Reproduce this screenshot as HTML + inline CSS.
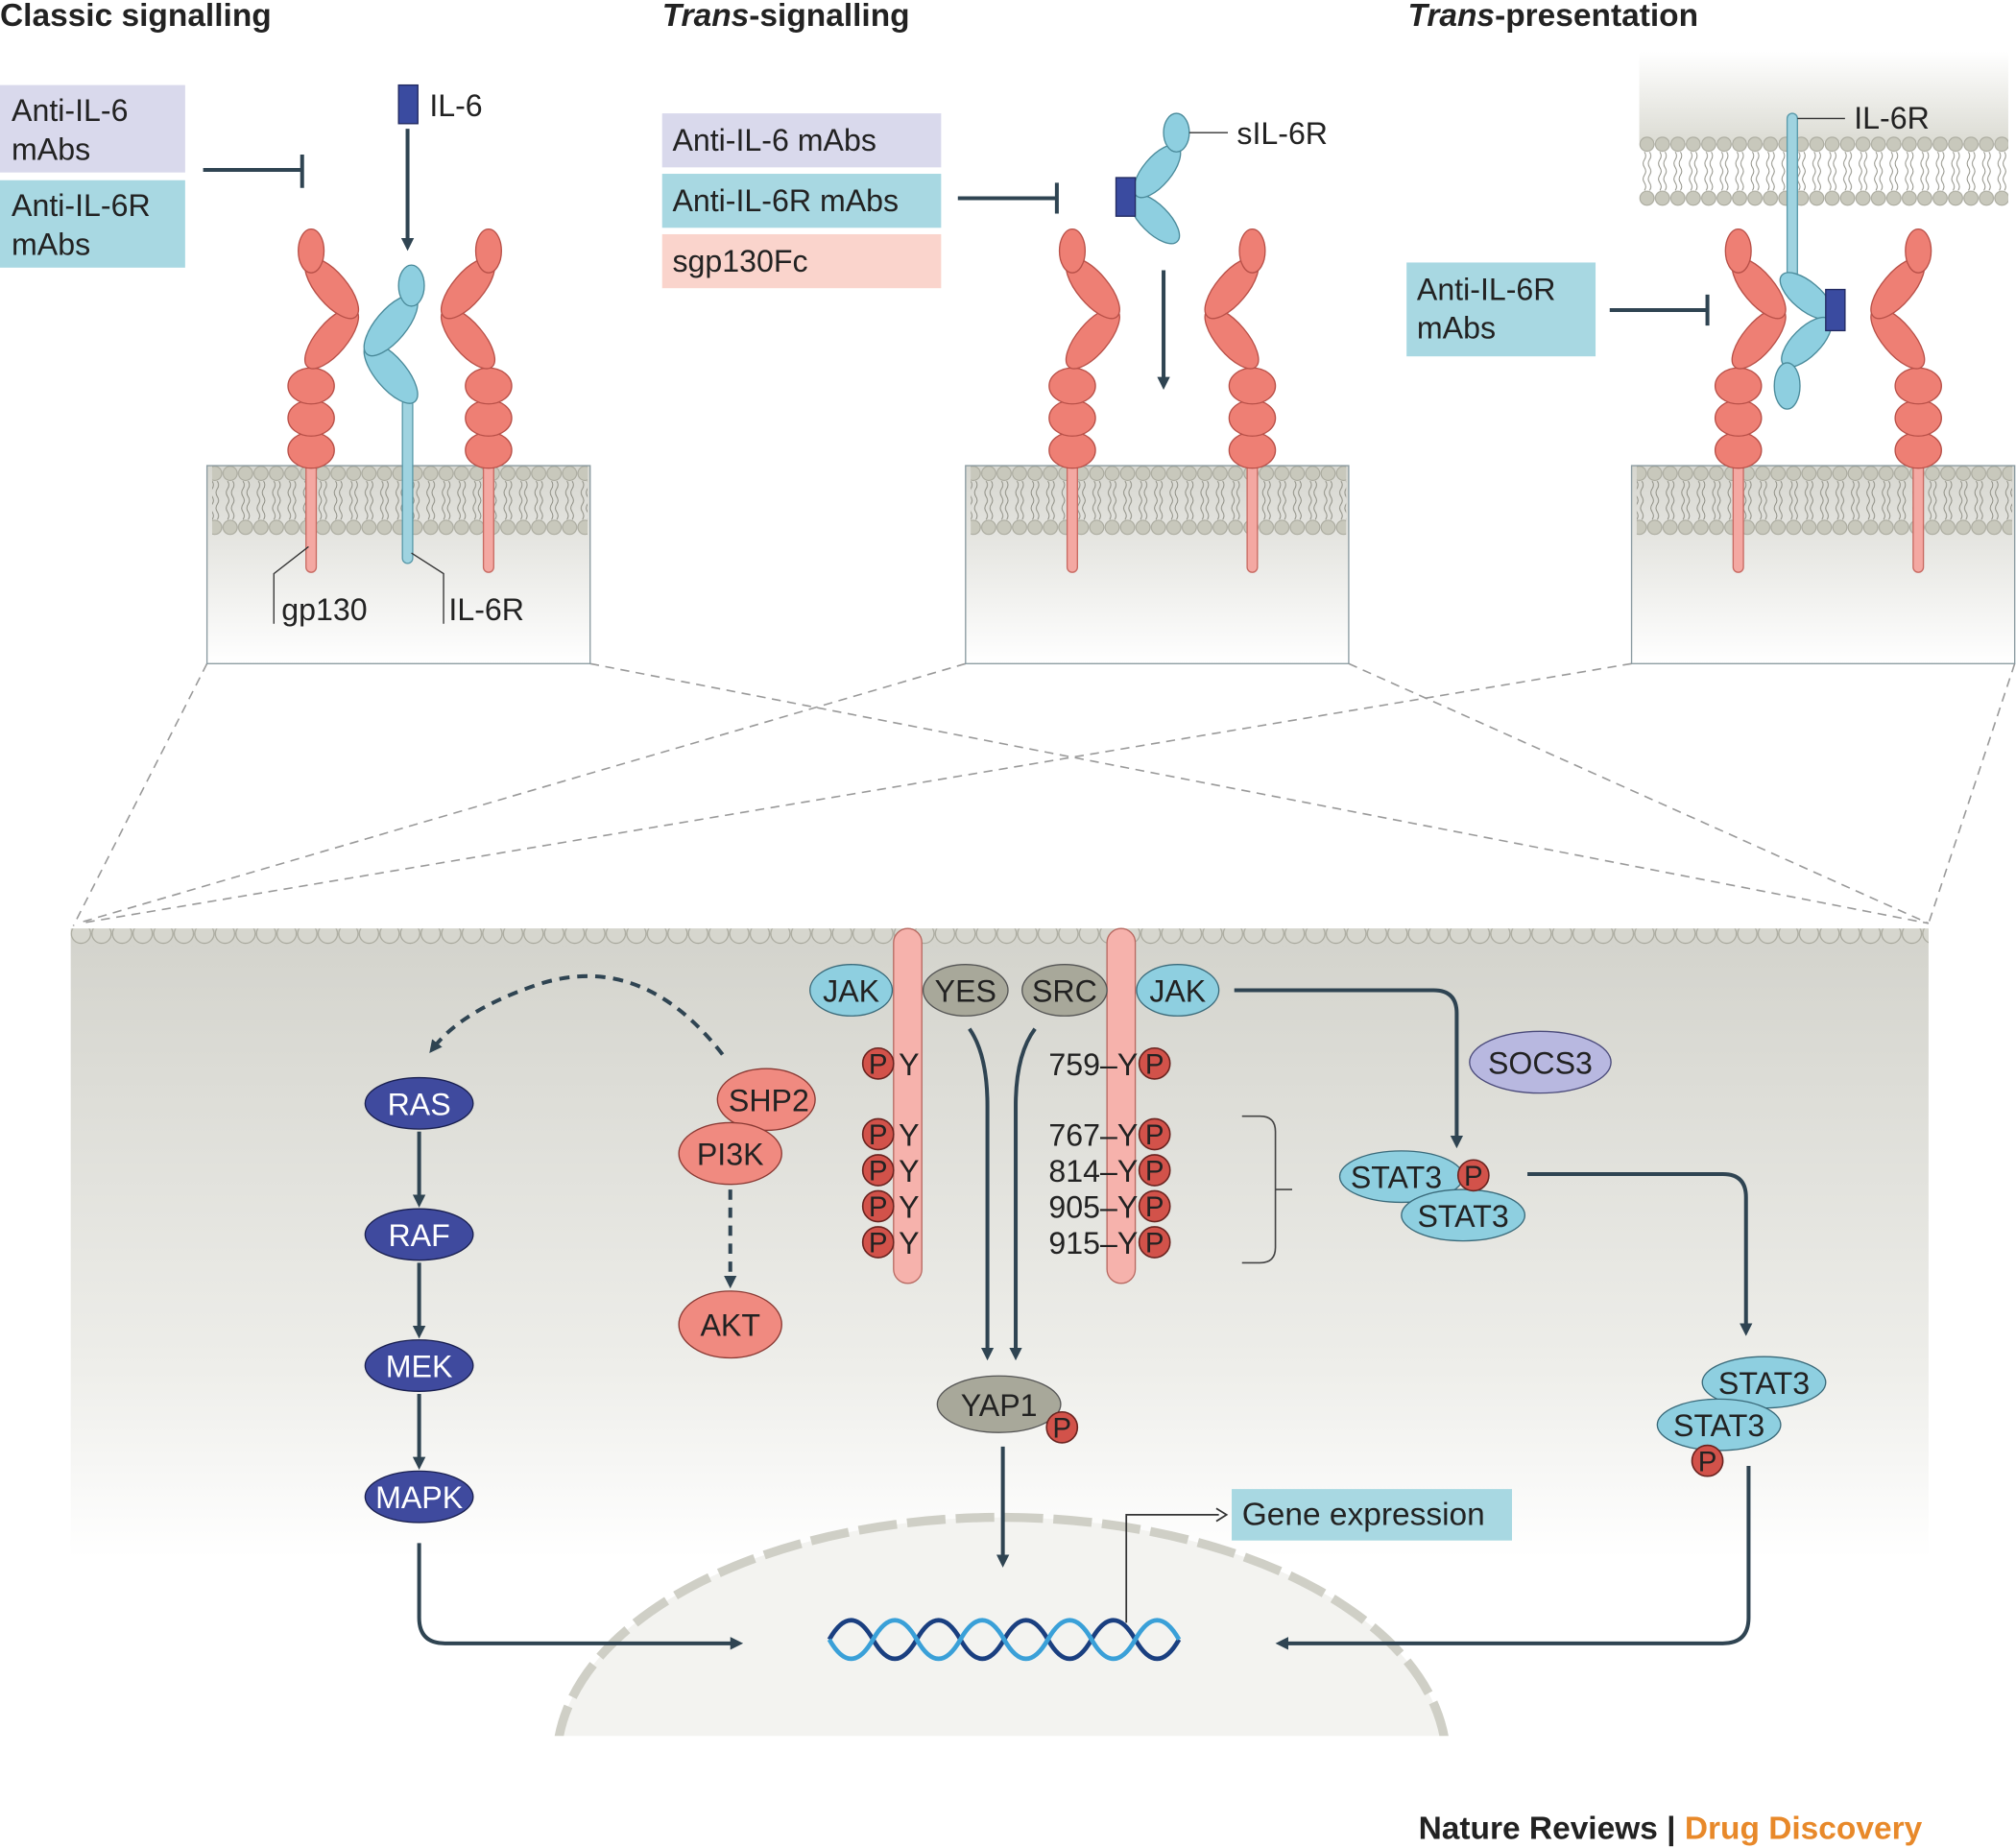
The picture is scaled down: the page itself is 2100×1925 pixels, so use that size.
<!DOCTYPE html>
<html><head><meta charset="utf-8"><style>
html,body{margin:0;padding:0;background:#fff;width:2100px;height:1925px;overflow:hidden}
svg{display:block}
text{font-family:"Liberation Sans",sans-serif;fill:#222}
</style></head><body>
<svg width="2100" height="1925" viewBox="0 0 1568 1437" xmlns="http://www.w3.org/2000/svg">
<defs>
<linearGradient id="boxg" x1="0" y1="0" x2="0" y2="1"><stop offset="0" stop-color="#d6d6cf"/><stop offset="1" stop-color="#ffffff"/></linearGradient>
<linearGradient id="cellg" x1="0" y1="0" x2="0" y2="1"><stop offset="0" stop-color="#d3d3cc"/><stop offset="0.7" stop-color="#eeeeea"/><stop offset="1" stop-color="#ffffff"/></linearGradient>
<linearGradient id="topg" x1="0" y1="0" x2="0" y2="1"><stop offset="0" stop-color="#ffffff"/><stop offset="1" stop-color="#dcdcd4"/></linearGradient>
<pattern id="bil" x="0" y="0" width="12" height="60" patternUnits="userSpaceOnUse">
<circle cx="6" cy="6" r="5.5" fill="#c8c8bc" stroke="#a8a89c" stroke-width="0.8"/>
<circle cx="6" cy="48" r="5.5" fill="#c8c8bc" stroke="#a8a89c" stroke-width="0.8"/>
<path d="M4 12 q2 3 0 6 q-2 3 0 6 q2 3 0 6 M8 12 q2 3 0 6 q-2 3 0 6 q2 3 0 6 M4 42 q2 -3 0 -6 q-2 -3 0 -6 M8 42 q2 -3 0 -6 q-2 -3 0 -6" fill="none" stroke="#8a8a80" stroke-width="0.7"/>
</pattern>
<pattern id="scal" x="55" y="722" width="16" height="14" patternUnits="userSpaceOnUse">
<circle cx="8" cy="4" r="7.5" fill="#d6d6ce" stroke="#a8a89c" stroke-width="0.9"/>
</pattern>
<marker id="ah" markerWidth="10" markerHeight="10" refX="5" refY="5" orient="auto" markerUnits="userSpaceOnUse" viewBox="0 0 10 10"><path d="M0 0 L10 5 L0 10 z" fill="#2f4452"/></marker>
<g id="gp">
<rect x="-4" y="355" width="8" height="90" rx="4" fill="#f4a8a2" stroke="#c86a62" stroke-width="1"/>
<ellipse cx="0" cy="350" rx="18" ry="14" fill="#ee7f74" stroke="#b85048"/>
<ellipse cx="0" cy="325" rx="18" ry="14" fill="#ee7f74" stroke="#b85048"/>
<ellipse cx="0" cy="300" rx="18" ry="14" fill="#ee7f74" stroke="#b85048"/>
<ellipse cx="16" cy="263" rx="29" ry="12" transform="rotate(-50 16 263)" fill="#ee7f74" stroke="#b85048"/>
<ellipse cx="16" cy="224" rx="29" ry="12" transform="rotate(50 16 224)" fill="#ee7f74" stroke="#b85048"/>
<ellipse cx="0" cy="195" rx="10" ry="17" fill="#ee7f74" stroke="#b85048"/>
</g>
<g id="memb">
<rect x="0" y="0" width="298" height="154" fill="url(#boxg)"/>
<rect x="4" y="0" width="292" height="54" fill="url(#bil)"/>
<rect x="0" y="0" width="298" height="154" fill="none" stroke="#8a9aa0" stroke-width="1"/>
</g>
<g id="P"><circle r="12" fill="#d2524a" stroke="#6a2420" stroke-width="1.2"/><text x="0" y="8" font-size="22" text-anchor="middle">P</text></g>
</defs>

<text x="0" y="20" font-size="25" font-weight="bold">Classic signalling</text>
<text x="515" y="20" font-size="25" font-weight="bold"><tspan font-style="italic">Trans</tspan>-signalling</text>
<text x="1095" y="20" font-size="25" font-weight="bold"><tspan font-style="italic">Trans</tspan>-presentation</text>

<g stroke="#9a9a9a" stroke-width="1.2" stroke-dasharray="7 5" fill="none">
<line x1="161" y1="516" x2="57" y2="720"/>
<line x1="459" y1="516" x2="1500" y2="718"/>
<line x1="751" y1="516" x2="60" y2="718"/>
<line x1="1049" y1="516" x2="1500" y2="718"/>
<line x1="1269" y1="516" x2="62" y2="718"/>
<line x1="1567" y1="516" x2="1500" y2="718"/>
</g>

<rect x="0" y="66" width="144" height="68" fill="#d9d9ec"/>
<text x="9" y="94" font-size="24">Anti-IL-6</text><text x="9" y="124" font-size="24">mAbs</text>
<rect x="0" y="140" width="144" height="68" fill="#a8d8e2"/>
<text x="9" y="168" font-size="24">Anti-IL-6R</text><text x="9" y="198" font-size="24">mAbs</text>
<path d="M158 132 H235 M235 120 V146" stroke="#2f4452" stroke-width="3" fill="none"/>
<use href="#memb" x="161" y="362"/>
<use href="#gp" x="242" y="0"/>
<use href="#gp" transform="translate(380 0) scale(-1 1)"/>
<rect x="313" y="310" width="8" height="128" rx="4" fill="#9fd3e0" stroke="#5a9aaa"/>
<ellipse cx="304" cy="290" rx="29" ry="12" transform="rotate(50 304 290)" fill="#8ecfe0" stroke="#4a8a9a"/>
<ellipse cx="304" cy="253" rx="29" ry="12" transform="rotate(-50 304 253)" fill="#8ecfe0" stroke="#4a8a9a"/>
<ellipse cx="320" cy="222" rx="10" ry="16" fill="#8ecfe0" stroke="#4a8a9a"/>
<rect x="310" y="66" width="15" height="30" fill="#3a4ba0" stroke="#222a60"/>
<text x="334" y="90" font-size="24">IL-6</text>
<line x1="317" y1="100" x2="317" y2="190" stroke="#2f4452" stroke-width="3" marker-end="url(#ah)"/>
<path d="M240 425 L213 446 V485 M320 430 L345 446 V485" stroke="#333" stroke-width="1" fill="none"/>
<text x="219" y="482" font-size="24">gp130</text>
<text x="349" y="482" font-size="24">IL-6R</text>

<rect x="515" y="88" width="217" height="42" fill="#d9d9ec"/><text x="523" y="117" font-size="24">Anti-IL-6 mAbs</text>
<rect x="515" y="135" width="217" height="42" fill="#a8d8e2"/><text x="523" y="164" font-size="24">Anti-IL-6R mAbs</text>
<rect x="515" y="182" width="217" height="42" fill="#fad4cc"/><text x="523" y="211" font-size="24">sgp130Fc</text>
<path d="M745 154 H822 M822 142 V166" stroke="#2f4452" stroke-width="3" fill="none"/>
<use href="#memb" x="751" y="362"/>
<use href="#gp" x="834" y="0"/>
<use href="#gp" transform="translate(974 0) scale(-1 1)"/>
<ellipse cx="898" cy="170" rx="25" ry="11" transform="rotate(45 898 170)" fill="#8ecfe0" stroke="#4a8a9a"/>
<ellipse cx="900" cy="133" rx="25" ry="11" transform="rotate(-50 900 133)" fill="#8ecfe0" stroke="#4a8a9a"/>
<ellipse cx="915" cy="103" rx="10" ry="15" fill="#8ecfe0" stroke="#4a8a9a"/>
<rect x="868" y="138" width="15" height="30" fill="#3a4ba0" stroke="#222a60"/>
<line x1="925" y1="103" x2="955" y2="103" stroke="#333"/>
<text x="962" y="112" font-size="24">sIL-6R</text>
<line x1="905" y1="210" x2="905" y2="298" stroke="#2f4452" stroke-width="3" marker-end="url(#ah)"/>

<rect x="1275" y="40" width="287" height="70" fill="url(#topg)"/>
<g transform="translate(1275 106)"><rect x="0" y="0" width="287" height="54" fill="url(#bil)"/></g>
<use href="#memb" x="1269" y="362"/>
<use href="#gp" x="1352" y="0"/>
<use href="#gp" transform="translate(1492 0) scale(-1 1)"/>
<rect x="1390" y="88" width="8" height="128" rx="4" fill="#9fd3e0" stroke="#5a9aaa"/>
<ellipse cx="1405" cy="230" rx="25" ry="11" transform="rotate(40 1405 230)" fill="#8ecfe0" stroke="#4a8a9a"/>
<ellipse cx="1405" cy="266" rx="25" ry="11" transform="rotate(-45 1405 266)" fill="#8ecfe0" stroke="#4a8a9a"/>
<ellipse cx="1390" cy="300" rx="10" ry="18" fill="#8ecfe0" stroke="#4a8a9a"/>
<rect x="1420" y="225" width="15" height="32" fill="#3a4ba0" stroke="#222a60"/>
<line x1="1398" y1="92" x2="1435" y2="92" stroke="#333"/>
<text x="1442" y="100" font-size="24">IL-6R</text>
<rect x="1094" y="204" width="147" height="73" fill="#a8d8e2"/>
<text x="1102" y="233" font-size="24">Anti-IL-6R</text><text x="1102" y="263" font-size="24">mAbs</text>
<path d="M1252 241 H1328 M1328 229 V253" stroke="#2f4452" stroke-width="3" fill="none"/>

<rect x="55" y="722" width="1445" height="490" fill="url(#cellg)"/>
<rect x="55" y="722" width="1445" height="14" fill="url(#scal)"/>
<rect x="55" y="1212" width="1445" height="140" fill="#ffffff"/>
<clipPath id="nc"><rect x="400" y="1150" width="760" height="200"/></clipPath>
<g clip-path="url(#nc)">
<ellipse cx="779" cy="1370" rx="346" ry="190" fill="#f3f3f0" stroke="#cfcfc6" stroke-width="7" stroke-dasharray="30 8"/>
</g>

<rect x="695" y="722" width="22" height="276" rx="11" fill="#f6b2ac" stroke="#b86a62"/>
<rect x="861" y="722" width="22" height="276" rx="11" fill="#f6b2ac" stroke="#b86a62"/>
<ellipse cx="662" cy="770" rx="32" ry="20" fill="#8ecfe0" stroke="#3a6a7a"/><text x="662" y="779" font-size="24" text-anchor="middle">JAK</text>
<ellipse cx="916" cy="770" rx="32" ry="20" fill="#8ecfe0" stroke="#3a6a7a"/><text x="916" y="779" font-size="24" text-anchor="middle">JAK</text>
<ellipse cx="751" cy="770" rx="33" ry="20" fill="#a8a89a" stroke="#555"/><text x="751" y="779" font-size="24" text-anchor="middle">YES</text>
<ellipse cx="828" cy="770" rx="33" ry="20" fill="#a8a89a" stroke="#555"/><text x="828" y="779" font-size="24" text-anchor="middle">SRC</text>
<g font-size="24">
<use href="#P" x="683" y="827"/><text x="699" y="836">Y</text>
<use href="#P" x="683" y="882"/><text x="699" y="891">Y</text>
<use href="#P" x="683" y="910"/><text x="699" y="919">Y</text>
<use href="#P" x="683" y="938"/><text x="699" y="947">Y</text>
<use href="#P" x="683" y="966"/><text x="699" y="975">Y</text>
<text x="885" y="836" text-anchor="end">759–Y</text><use href="#P" x="898" y="827"/>
<text x="885" y="891" text-anchor="end">767–Y</text><use href="#P" x="898" y="882"/>
<text x="885" y="919" text-anchor="end">814–Y</text><use href="#P" x="898" y="910"/>
<text x="885" y="947" text-anchor="end">905–Y</text><use href="#P" x="898" y="938"/>
<text x="885" y="975" text-anchor="end">915–Y</text><use href="#P" x="898" y="966"/>
</g>
<path d="M966 868 H980 Q992 868 992 880 V970 Q992 982 980 982 H966 M992 925 H1005" stroke="#444" stroke-width="1.2" fill="none"/>

<path d="M754 800 Q768 820 768 860 V1053" stroke="#2f4452" stroke-width="3" fill="none" marker-end="url(#ah)"/>
<path d="M805 800 Q790 820 790 860 V1053" stroke="#2f4452" stroke-width="3" fill="none" marker-end="url(#ah)"/>
<ellipse cx="777" cy="1092" rx="48" ry="22" fill="#a8a89a" stroke="#555"/><text x="777" y="1101" font-size="24" text-anchor="middle">YAP1</text>
<use href="#P" x="826" y="1110"/>
<line x1="780" y1="1125" x2="780" y2="1214" stroke="#2f4452" stroke-width="3" marker-end="url(#ah)"/>

<ellipse cx="1198" cy="826" rx="55" ry="24" fill="#b8b8e0" stroke="#4a4a7a"/><text x="1198" y="835" font-size="24" text-anchor="middle">SOCS3</text>
<path d="M960 770 H1115 Q1133 770 1133 788 V888" stroke="#2f4452" stroke-width="3" fill="none" marker-end="url(#ah)"/>
<ellipse cx="1090" cy="915" rx="48" ry="20" fill="#8ecfe0" stroke="#3a6a7a"/><text x="1086" y="924" font-size="24" text-anchor="middle">STAT3</text>
<ellipse cx="1138" cy="945" rx="48" ry="20" fill="#8ecfe0" stroke="#3a6a7a"/><text x="1138" y="954" font-size="24" text-anchor="middle">STAT3</text>
<use href="#P" x="1146" y="914"/>
<path d="M1188 913 H1340 Q1358 913 1358 931 V1034" stroke="#2f4452" stroke-width="3" fill="none" marker-end="url(#ah)"/>
<ellipse cx="1372" cy="1075" rx="48" ry="20" fill="#8ecfe0" stroke="#3a6a7a"/><text x="1372" y="1084" font-size="24" text-anchor="middle">STAT3</text>
<ellipse cx="1337" cy="1108" rx="48" ry="20" fill="#8ecfe0" stroke="#3a6a7a"/><text x="1337" y="1117" font-size="24" text-anchor="middle">STAT3</text>
<use href="#P" x="1328" y="1136"/>
<path d="M1360 1140 V1258 Q1360 1278 1340 1278 H997" stroke="#2f4452" stroke-width="3" fill="none" marker-end="url(#ah)"/>

<g font-size="24">
<ellipse cx="326" cy="858" rx="42" ry="20" fill="#3f4a9e" stroke="#1a2050"/><text x="326" y="867" text-anchor="middle" style="fill:#fff">RAS</text>
<ellipse cx="326" cy="960" rx="42" ry="20" fill="#3f4a9e" stroke="#1a2050"/><text x="326" y="969" text-anchor="middle" style="fill:#fff">RAF</text>
<ellipse cx="326" cy="1062" rx="42" ry="20" fill="#3f4a9e" stroke="#1a2050"/><text x="326" y="1071" text-anchor="middle" style="fill:#fff">MEK</text>
<ellipse cx="326" cy="1164" rx="42" ry="20" fill="#3f4a9e" stroke="#1a2050"/><text x="326" y="1173" text-anchor="middle" style="fill:#fff">MAPK</text>
</g>
<g stroke="#2f4452" stroke-width="3" fill="none">
<line x1="326" y1="880" x2="326" y2="934" marker-end="url(#ah)"/>
<line x1="326" y1="982" x2="326" y2="1036" marker-end="url(#ah)"/>
<line x1="326" y1="1084" x2="326" y2="1138" marker-end="url(#ah)"/>
<path d="M326 1200 V1258 Q326 1278 346 1278 H573" marker-end="url(#ah)"/>
<path d="M562 820 Q500 740 420 765 Q360 785 337 815" stroke-dasharray="8 6" marker-end="url(#ah)"/>
<line x1="568" y1="925" x2="568" y2="997" stroke-dasharray="8 6" marker-end="url(#ah)"/>
</g>
<ellipse cx="596" cy="855" rx="38" ry="24" fill="#f08a80" stroke="#8a3a34"/><text x="598" y="864" font-size="24" text-anchor="middle">SHP2</text>
<ellipse cx="568" cy="897" rx="40" ry="24" fill="#f08a80" stroke="#8a3a34"/><text x="568" y="906" font-size="24" text-anchor="middle">PI3K</text>
<ellipse cx="568" cy="1030" rx="40" ry="26" fill="#f08a80" stroke="#8a3a34"/><text x="568" y="1039" font-size="24" text-anchor="middle">AKT</text>

<path d="M645 1275 q17 -30 34 0 t34 0 t34 0 t34 0 t34 0 t34 0 t34 0 t34 0" stroke="#1a3f80" stroke-width="3.5" fill="none"/>
<path d="M645 1275 q17 30 34 0 t34 0 t34 0 t34 0 t34 0 t34 0 t34 0 t34 0" stroke="#3aa0d8" stroke-width="3.5" fill="none"/>
<path d="M876 1262 V1178 H948" stroke="#333" stroke-width="1.3" fill="none"/>
<path d="M946 1173 L954 1178 L946 1183" stroke="#333" stroke-width="1.3" fill="none"/>
<rect x="958" y="1158" width="218" height="40" fill="#a8d8e2"/>
<text x="966" y="1186" font-size="25">Gene expression</text>

<text x="1495" y="1430" font-size="25" font-weight="bold" text-anchor="end">Nature Reviews | <tspan style="fill:#e8892a">Drug Discovery</tspan></text>
</svg>
</body></html>
